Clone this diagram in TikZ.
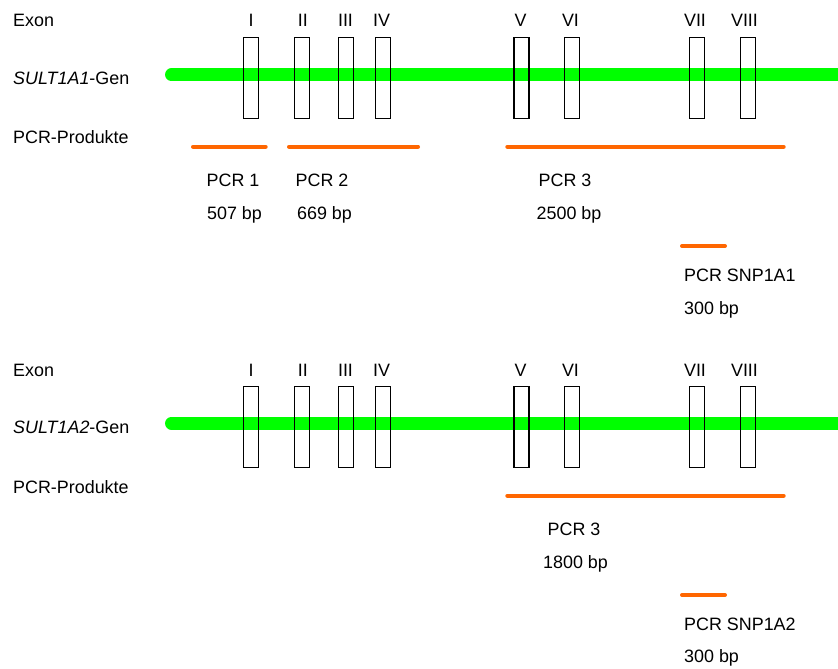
\documentclass[tikz,border=0pt]{standalone}
\usepackage{fontspec}
\setmainfont{Liberation Sans}
\definecolor{genegreen}{RGB}{0,255,0}
\definecolor{pcrorange}{RGB}{255,102,0}
\begin{document}
\begin{tikzpicture}[x=1pt,y=-1pt,
  every node/.style={font=\fontsize{17.9}{21}\selectfont, inner sep=0pt, text height=12.8pt, text depth=0pt},
  lab/.style={anchor=center},
  lft/.style={anchor=west},
  exon/.style={draw=black, line width=1.1pt, minimum width=15pt, minimum height=80.6pt, text height=, text depth=},
  gene/.style={draw=genegreen, line width=12.7pt, line cap=round},
  pcr/.style={draw=pcrorange, line width=4pt, line cap=round}]
\useasboundingbox (0,0) rectangle (838,669);

% ---------- SULT1A1 ----------
\node[lft] (exA) at (13,20) {Exon};
\node[lft] (genA) at (13,77.7) {\textit{SULT1A1}-Gen};
\node[lft] (prodA) at (13,137) {PCR-Produkte};
\coordinate (gAs) at (171.4,74.7);
\coordinate (gAe) at (845,74.7);
\draw[gene] (gAs) -- (gAe);
\foreach \n/\x/\lx/\r in {1/251/251/I,2/302/302.8/II,3/346/345.5/III,4/383/381.5/IV,5/521.5/520.5/V,6/572.3/570.5/VI,7/696.8/695/VII,8/747.8/744.5/VIII}{
  \node[exon] (eA\n) at (\x,78) {};
  \node[lab] (rA\n) at (\lx,20) {\r};
}
\coordinate (p1s) at (193,146.7); \coordinate (p1e) at (265.7,146.7);
\coordinate (p2s) at (289,146.7); \coordinate (p2e) at (418,146.7);
\coordinate (p3s) at (507.3,146.7); \coordinate (p3e) at (783.7,146.7);
\coordinate (psA) at (682,246); \coordinate (peA) at (725,246);
\draw[pcr] (p1s) -- (p1e);
\draw[pcr] (p2s) -- (p2e);
\draw[pcr] (p3s) -- (p3e);
\draw[pcr] (psA) -- (peA);
\node[lab] (l1) at (233,179.7) {PCR 1};
\node[lab] (b1) at (234.5,213.3) {507 bp};
\node[lab] (l2) at (322,179.7) {PCR 2};
\node[lab] (b2) at (324.5,213.3) {669 bp};
\node[lab] (l3) at (565,179.7) {PCR 3};
\node[lab] (b3) at (569,213.3) {2500 bp};
\node[lft] (lsA) at (684,275) {PCR SNP1A1};
\node[lft] (bsA) at (684,307.8) {300 bp};

% ---------- SULT1A2 ----------
\node[lft] (exB) at (13,369.8) {Exon};
\node[lft] (genB) at (13,427) {\textit{SULT1A2}-Gen};
\node[lft] (prodB) at (13,486.8) {PCR-Produkte};
\coordinate (gBs) at (171.4,423.2);
\coordinate (gBe) at (845,423.2);
\draw[gene] (gBs) -- (gBe);
\foreach \n/\x/\lx/\r in {1/251/251/I,2/302/302.8/II,3/346/345.5/III,4/383/381.5/IV,5/521.5/520.5/V,6/572.3/570.5/VI,7/696.8/695/VII,8/747.8/744.5/VIII}{
  \node[exon] (eB\n) at (\x,427) {};
  \node[lab] (rB\n) at (\lx,369.8) {\r};
}
\coordinate (q3s) at (507.3,495.7); \coordinate (q3e) at (783.7,495.7);
\coordinate (psB) at (682,595); \coordinate (peB) at (725,595);
\draw[pcr] (q3s) -- (q3e);
\draw[pcr] (psB) -- (peB);
\node[lab] (l4) at (574,529.2) {PCR 3};
\node[lab] (b4) at (575.5,562) {1800 bp};
\node[lft] (lsB) at (684,623.7) {PCR SNP1A2};
\node[lft] (bsB) at (684,656.3) {300 bp};
\end{tikzpicture}
\end{document}
